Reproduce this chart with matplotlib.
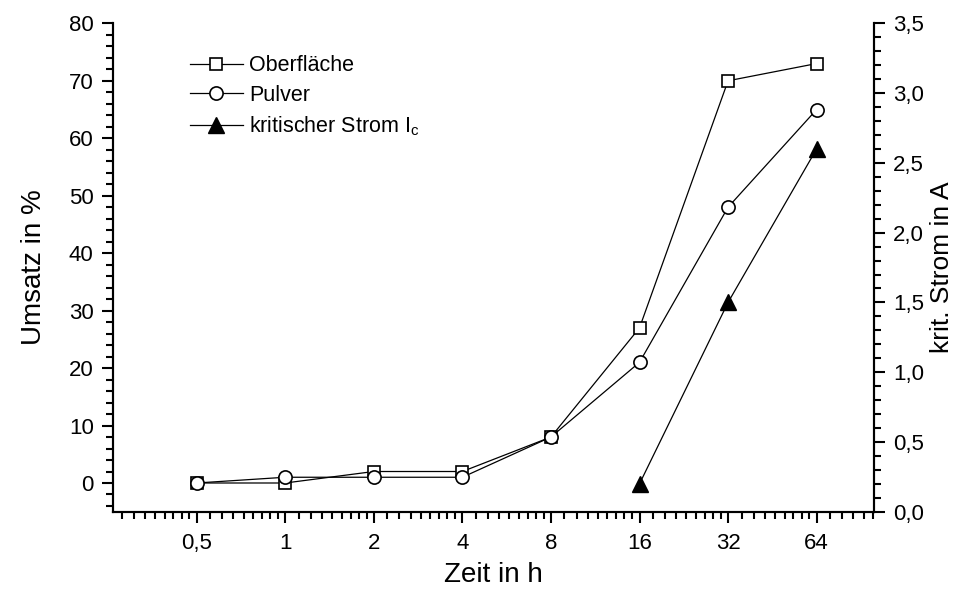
import numpy as np
import matplotlib.pyplot as plt
from matplotlib.ticker import FixedLocator, MultipleLocator, FuncFormatter, NullFormatter

plt.rcParams['font.family'] = ['Liberation Sans', 'DejaVu Sans']
plt.rcParams['mathtext.fontset'] = 'custom'
plt.rcParams['mathtext.rm'] = 'Liberation Sans'

# Reaktionszeit in h
zeit = [0.5, 1, 2, 4, 8, 16, 32, 64]
# Umsatz in %
oberflaeche = [0, 0, 2, 2, 8, 27, 70, 73]
pulver = [0, 1, 1, 1, 8, 21, 48, 65]
# kritischer Strom in A
zeit_ic = [16, 32, 64]
strom_ic = [0.2, 1.5, 2.6]

x_ticks = [0.5, 1, 2, 4, 8, 16, 32, 64]
x_labels = ['0,5', '1', '2', '4', '8', '16', '32', '64']

fig = plt.figure(figsize=(9.59, 5.92), dpi=100)
ax = fig.add_axes([0.118, 0.1356, 0.793, 0.825])
ax2 = ax.twinx()

l1, = ax.plot(zeit, oberflaeche, color='black', lw=0.9, marker='s', ms=9,
              mfc='white', mec='black', mew=1.2, label='Oberfläche')
l2, = ax.plot(zeit, pulver, color='black', lw=0.9, marker='o', ms=9.5,
              mfc='white', mec='black', mew=1.2, label='Pulver')
l3, = ax2.plot(zeit_ic, strom_ic, color='black', lw=0.9, marker='^', ms=11,
               mfc='black', mec='black', label=r'kritischer Strom I$_\mathregular{c}$')

# log2-Achse mit 8 Zwischenstrichen je Oktave
ax.set_xscale('log', base=2)
ax.set_xlim(0.26, 100)
ax.xaxis.set_major_locator(FixedLocator(x_ticks))
ax.set_xticklabels(x_labels)
minor = [b * (1 + k / 9) for b in [0.125, 0.25, 0.5, 1, 2, 4, 8, 16, 32, 64] for k in range(1, 9)]
ax.xaxis.set_minor_locator(FixedLocator(minor))
ax.xaxis.set_minor_formatter(NullFormatter())

ax.set_ylim(-5, 80)
ax.yaxis.set_major_locator(MultipleLocator(10))
ax.yaxis.set_minor_locator(MultipleLocator(2))

ax2.set_ylim(0, 3.5)
ax2.yaxis.set_major_locator(MultipleLocator(0.5))
ax2.yaxis.set_minor_locator(MultipleLocator(0.1))
ax2.yaxis.set_major_formatter(FuncFormatter(lambda v, p: f'{v:.1f}'.replace('.', ',')))

for a in (ax, ax2):
    for s in a.spines.values():
        s.set_linewidth(1.5)
    a.spines['top'].set_visible(False)
    a.tick_params(which='major', direction='out', length=8, width=1.5, labelsize=16, pad=6)
    a.tick_params(which='minor', direction='out', length=5, width=1.5)
ax.tick_params(axis='x', which='major', pad=7)

ax.set_xlabel('Zeit in h', fontsize=20, labelpad=6)
ax.set_ylabel('Umsatz in %', fontsize=20, labelpad=16)
ax2.set_ylabel('krit. Strom in A', fontsize=19, labelpad=4)

ax2.legend(handles=[l1, l2, l3], loc='upper left', bbox_to_anchor=(0.101, 0.935),
           frameon=False, fontsize=15.5, handlelength=2.45, handletextpad=0.3,
           labelspacing=0.4, borderpad=0, borderaxespad=0)

fig.savefig('out.png', dpi=100)
